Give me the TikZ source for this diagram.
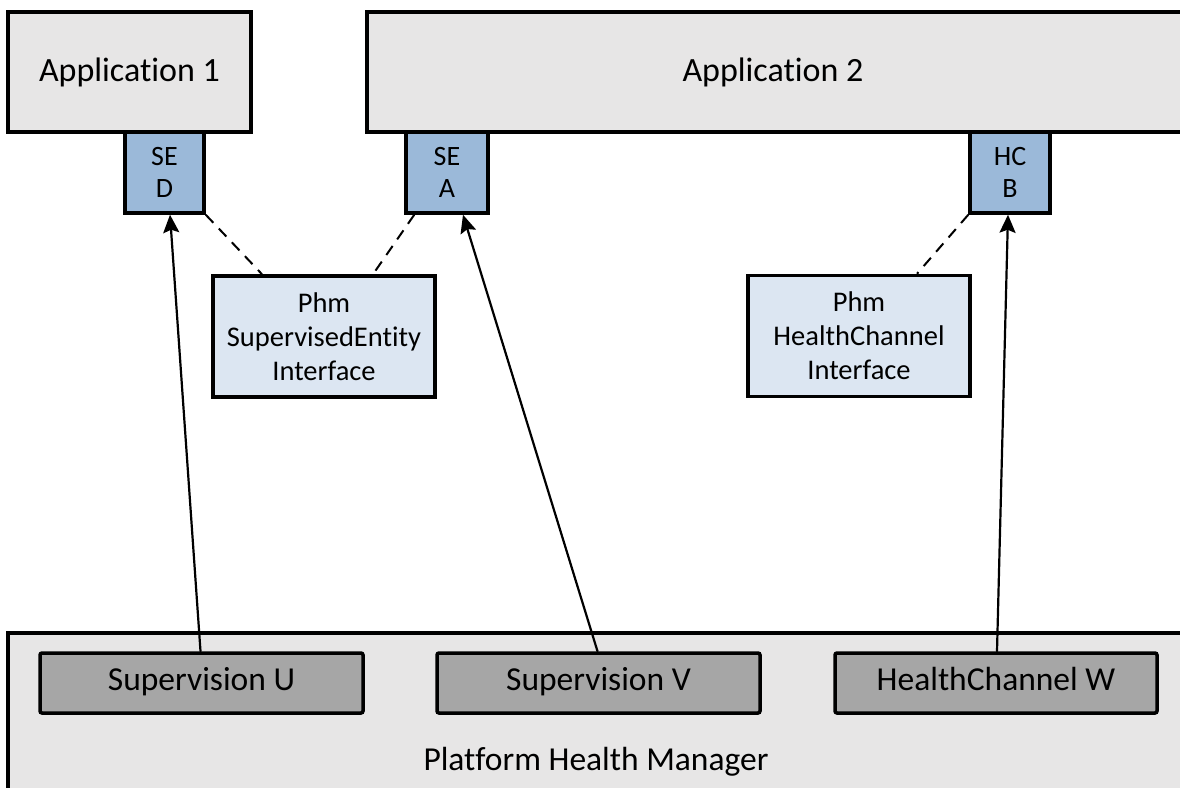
\documentclass[tikz,border=0pt]{standalone}
\usepackage{fontspec}
\setmainfont{Carlito}[Ligatures=NoCommon]
\usetikzlibrary{arrows.meta}
\definecolor{softGray}{HTML}{E7E6E6}
\definecolor{softBlue}{HTML}{9BB9D9}
\definecolor{paleBlue}{HTML}{DCE6F2}
\definecolor{midGray}{HTML}{A6A6A6}

\begin{document}
\begin{tikzpicture}[x=1pt, y=-1pt, line cap=round, >={Stealth[length=18pt, width=16pt, inset=3pt]},
        appbox/.style={draw, line width=3.5pt, fill=softGray, inner sep=0pt, font=\fontsize{34}{40}\selectfont},
        portbox/.style={draw, line width=3.5pt, fill=softBlue, inner sep=0pt, minimum height=81, align=center, font=\fontsize{28}{32}\selectfont},
        ifbox/.style={draw, line width=3.5pt, fill=paleBlue, inner sep=0pt, minimum width=222, minimum height=121, align=center, font=\fontsize{28.5}{34}\selectfont},
        supbox/.style={draw, line width=3.5pt, fill=midGray, rounded corners=2pt, inner sep=0pt, minimum width=323, minimum height=60, font=\fontsize{33.5}{38}\selectfont, execute at begin node=\strut},
        link/.style={line width=2.2pt, ->},
        dashlink/.style={line width=2pt, dash pattern=on 11pt off 8pt, line cap=butt}]
        \useasboundingbox (0,0) rectangle (1180,787);
        \clip (0,0) rectangle (1180,787);
        \node[appbox, minimum width=243, minimum height=120] (app1) at (129.5,72) {Application 1};
        \node[appbox, minimum width=850, minimum height=120] (app2) at (792,72) {};
        \node[font=\fontsize{34}{40}\selectfont] (app2lbl) at (773,72) {Application 2};
        \node[appbox, minimum width=1200, minimum height=180] (phm) at (608,723) {};
        \node[font=\fontsize{33.5}{38}\selectfont] (phmlbl) at (596,762) {Platform Health Manager};
        \node[portbox, minimum width=79] (seD) at (164.5,172.5) {SE\\D};
        \node[portbox, minimum width=82] (seA) at (447,172.5) {SE\\A};
        \node[portbox, minimum width=80] (hcB) at (1010,172.5) {HC\\B};
        \node[ifbox] (ifSE) at (324,336.5) {Phm\\SupervisedEntity\\Interface};
        \node[ifbox] (ifHC) at (859,336) {Phm\\HealthChannel\\Interface};
        \node[supbox] (supU) at (201.5,683) {Supervision U};
        \node[supbox] (supV) at (598.5,683) {Supervision V};
        \node[supbox, minimum width=322] (hcW) at (996,683) {HealthChannel W};
        \draw[link] ([xshift=-1]supU.north) -- ([xshift=5.5]seD.south);
        \draw[link] ([xshift=-1]supV.north) -- ([xshift=16]seA.south);
        \draw[link] ([xshift=1]hcW.north) -- ([xshift=-2]hcB.south);
        \draw[dashlink] (seD.south east) -- ([xshift=-62]ifSE.north);
        \draw[dashlink] ([xshift=10]seA.south west) -- ([xshift=49]ifSE.north);
        \draw[dashlink] (hcB.south west) -- ([xshift=58]ifHC.north);
    \end{tikzpicture}
\end{document}
